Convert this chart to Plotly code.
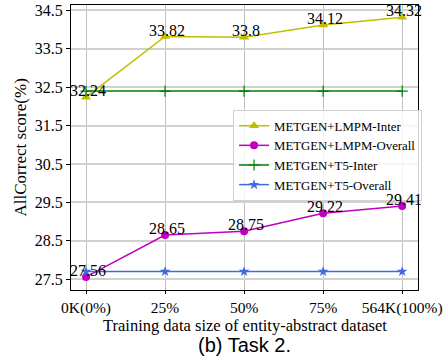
import plotly.graph_objects as go

x_labels = ["0K(0%)", "25%", "50%", "75%", "564K(100%)"]
lmpm_inter = [32.24, 33.82, 33.8, 34.12, 34.32]
lmpm_overall = [27.56, 28.65, 28.75, 29.22, 29.41]
t5_inter = [32.4, 32.4, 32.4, 32.4, 32.4]
t5_overall = [27.7, 27.7, 27.7, 27.7, 27.7]
y_ticks = [27.5, 28.5, 29.5, 30.5, 31.5, 32.5, 33.5, 34.5]

xs = list(range(len(x_labels)))
serif = "Liberation Serif, Times New Roman, serif"

fig = go.Figure()
fig.add_trace(go.Scatter(x=xs, y=lmpm_inter, mode="lines+markers", name="METGEN+LMPM-Inter",
                         line=dict(color="#bfbf00", width=1.5),
                         marker=dict(symbol="triangle-up", size=9, color="#bfbf00")))
fig.add_trace(go.Scatter(x=xs, y=lmpm_overall, mode="lines+markers", name="METGEN+LMPM-Overall",
                         line=dict(color="#bf00bf", width=1.5),
                         marker=dict(symbol="circle", size=8, color="#bf00bf")))
fig.add_trace(go.Scatter(x=xs, y=t5_inter, mode="lines+markers", name="METGEN+T5-Inter",
                         line=dict(color="#008000", width=1.5),
                         marker=dict(symbol="cross-thin", size=8, color="#008000",
                                     line=dict(color="#008000", width=1.2))))
fig.add_trace(go.Scatter(x=xs, y=t5_overall, mode="lines+markers", name="METGEN+T5-Overall",
                         line=dict(color="#4169e1", width=1.5),
                         marker=dict(symbol="star", size=8, color="#4169e1")))

for series in (lmpm_inter, lmpm_overall):
    for xi, v in zip(xs, series):
        fig.add_annotation(x=xi, y=v, text=f"{v:g}", showarrow=False,
                           xanchor="center", yanchor="bottom", xshift=2, yshift=-4,
                           font=dict(family=serif, size=16, color="black"))

fig.add_annotation(x=0.5, y=0, xref="paper", yref="paper", yshift=-55,
                   text="(b) Task 2.", showarrow=False, xanchor="center", yanchor="middle",
                   font=dict(family="Liberation Sans, Arial, sans-serif", size=20, color="black"))
fig.add_annotation(x=0.5, y=0, xref="paper", yref="paper", yshift=-35,
                   text="Training data size of entity-abstract dataset", showarrow=False,
                   xanchor="center", yanchor="middle",
                   font=dict(family=serif, size=16.5, color="black"))
fig.add_annotation(x=0, y=0.5, xref="paper", yref="paper", xshift=-51,
                   text="AllCorrect score(%)", showarrow=False, textangle=-90,
                   xanchor="center", yanchor="middle",
                   font=dict(family=serif, size=17, color="black"))

fig.update_layout(
    width=446, height=360,
    margin=dict(l=71, r=28, t=5, b=70),
    plot_bgcolor="white", paper_bgcolor="white",
    font=dict(family=serif, size=15, color="black"),
    showlegend=True,
    legend=dict(x=0.467, y=0.632, xanchor="left", yanchor="top",
                bgcolor="rgba(255,255,255,0.8)", bordercolor="#d0d0d0", borderwidth=1,
                font=dict(family=serif, size=12.8), tracegroupgap=0, itemwidth=30),
    xaxis=dict(range=[-0.19, 4.2], tickvals=xs, ticktext=x_labels, automargin=False,
               showgrid=True, gridcolor="#c0c0c0", gridwidth=1,
               showline=True, linecolor="black", linewidth=1, mirror=True,
               ticks="outside", ticklen=3, tickcolor="black", zeroline=False,
               tickfont=dict(family=serif, size=15.5)),
    yaxis=dict(range=[27.22, 34.64], tickvals=y_ticks, ticktext=[f"{t}" for t in y_ticks],
               automargin=False,
               showgrid=True, gridcolor="#d0d0d0", gridwidth=1.5,
               showline=True, linecolor="black", linewidth=1, mirror=True,
               ticks="outside", ticklen=4, tickcolor="black", zeroline=False,
               tickfont=dict(family=serif, size=16)),
)

fig.write_html("out.html", config={"displayModeBar": False},
               post_script="document.body.style.margin='0';document.body.style.overflow='hidden';")
